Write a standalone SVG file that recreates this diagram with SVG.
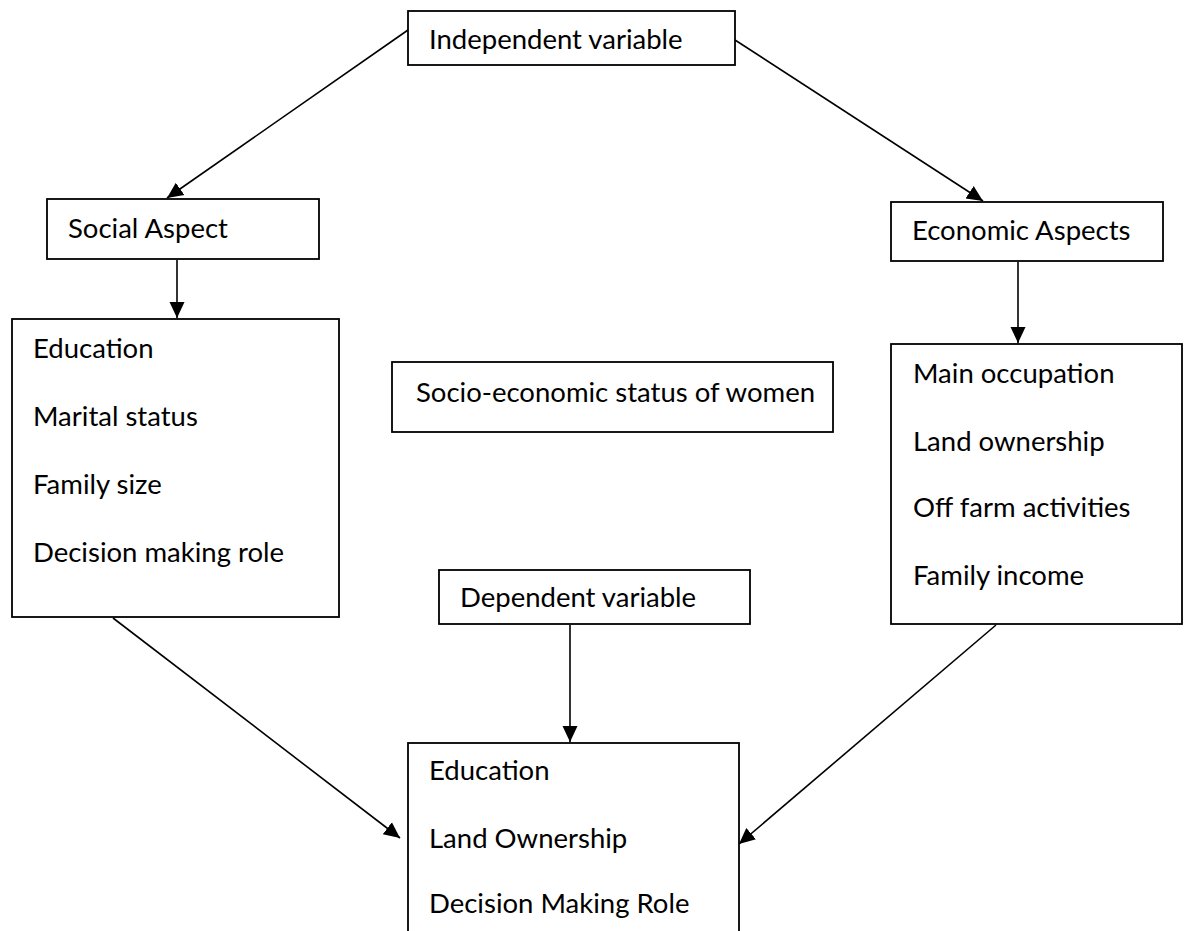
<svg xmlns="http://www.w3.org/2000/svg" width="1192" height="931" viewBox="0 0 1192 931">
<defs>
<marker id="ah" markerUnits="userSpaceOnUse" markerWidth="17" markerHeight="17" viewBox="0 0 17 17" refX="16" refY="8.5" orient="auto">
<path d="M0,1 L16,8.5 L0,16 z" fill="#000"/>
</marker>
<style>
.box{fill:#fff;stroke:#000;stroke-width:1.8}
.t{font-family:Lato,"Liberation Sans",sans-serif;font-size:27.5px;fill:#000}
.c{fill:none;stroke:#000;stroke-width:1.6;marker-end:url(#ah)}
</style>
</defs>
<rect width="1192" height="931" fill="#fff"/>
<g id="connectors">
<line class="c" x1="408" y1="30" x2="167" y2="198"/>
<line class="c" x1="735" y1="40" x2="983" y2="201"/>
<line class="c" x1="177" y1="260" x2="177" y2="318"/>
<line class="c" x1="1018" y1="262" x2="1018" y2="343"/>
<line class="c" x1="113" y1="618" x2="400" y2="838"/>
<line class="c" x1="996" y1="625" x2="739" y2="844"/>
<line class="c" x1="570" y1="625" x2="570" y2="742"/>
</g>
<g id="independent">
<rect class="box" x="408" y="11" width="327" height="54"/>
<text class="t" x="429" y="49">Independent variable</text>
</g>
<g id="social">
<rect class="box" x="47" y="199" width="272" height="60"/>
<text class="t" x="68" y="238">Social Aspect</text>
</g>
<g id="economic">
<rect class="box" x="891" y="202" width="272" height="59"/>
<text class="t" x="912" y="240">Economic Aspects</text>
</g>
<g id="social-list">
<rect class="box" x="12" y="319" width="327" height="298"/>
<text class="t" x="33" y="358">Education</text>
<text class="t" x="33" y="426">Marital status</text>
<text class="t" x="33" y="494">Family size</text>
<text class="t" x="33" y="562">Decision making role</text>
</g>
<g id="status">
<rect class="box" x="392" y="362" width="441" height="70"/>
<text class="t" x="416" y="402">Socio-economic status of women</text>
</g>
<g id="economic-list">
<rect class="box" x="891" y="344" width="291" height="280"/>
<text class="t" x="913" y="383">Main occupation</text>
<text class="t" x="913" y="451">Land ownership</text>
<text class="t" x="913" y="517">Off farm activities</text>
<text class="t" x="913" y="585">Family income</text>
</g>
<g id="dependent">
<rect class="box" x="439" y="570" width="311" height="54"/>
<text class="t" x="460" y="607">Dependent variable</text>
</g>
<g id="outcome">
<rect class="box" x="408" y="743" width="331" height="200"/>
<text class="t" x="429" y="780">Education</text>
<text class="t" x="429" y="848">Land Ownership</text>
<text class="t" x="429" y="913">Decision Making Role</text>
</g>
</svg>
